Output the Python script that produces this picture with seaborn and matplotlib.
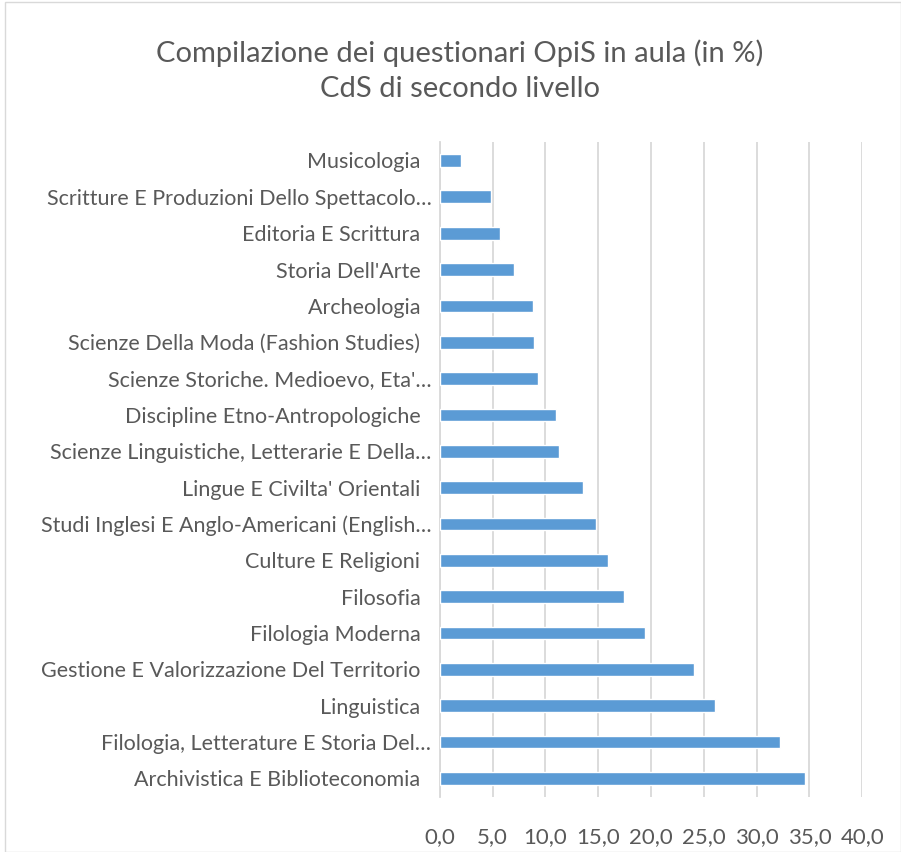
import seaborn as sns
import matplotlib.pyplot as plt
import matplotlib.ticker as mticker
from matplotlib.patches import Rectangle

corsi = [
    "Musicologia  ",
    "Scritture E Produzioni Dello Spettacolo…",
    "Editoria E Scrittura  ",
    "Storia Dell'Arte  ",
    "Archeologia  ",
    "Scienze Della Moda (Fashion Studies)  ",
    "Scienze Storiche. Medioevo, Eta'…",
    "Discipline Etno-Antropologiche  ",
    "Scienze Linguistiche, Letterarie E Della…",
    "Lingue E Civilta' Orientali  ",
    "Studi Inglesi E Anglo-Americani (English…",
    "Culture E Religioni  ",
    "Filosofia  ",
    "Filologia Moderna  ",
    "Gestione E Valorizzazione Del Territorio  ",
    "Linguistica  ",
    "Filologia, Letterature E Storia Del…",
    "Archivistica E Biblioteconomia  ",
]
percentuali = [2.0, 4.9, 5.7, 7.0, 8.8, 8.9, 9.3, 11.0, 11.3, 13.6,
               14.8, 15.9, 17.4, 19.4, 24.1, 26.1, 32.2, 34.6]
x_ticks = [0, 5, 10, 15, 20, 25, 30, 35, 40]

grigio = "#595959"

sns.set_style("white")
plt.rcParams['font.family'] = ['Lato', 'DejaVu Sans']

fig = plt.figure(figsize=(9.01, 8.52), dpi=100)
ax = fig.add_axes([0.488, 0.065, 0.469, 0.768])

sns.barplot(x=percentuali, y=corsi, orient="h", color="#5b9bd5",
            width=0.35, saturation=1, ax=ax, zorder=3)

ax.set_xlim(0, 40)
ax.set_ylim(17.5, -0.5)
ax.set_xticks(x_ticks)
ax.xaxis.set_major_formatter(mticker.FuncFormatter(lambda v, p: f"{v:.1f}".replace(".", ",")))
ax.grid(axis="x", color="#d9d9d9", linewidth=1.3, zorder=0)
ax.tick_params(axis="x", length=0, pad=22, labelsize=16, labelcolor=grigio)
ax.tick_params(axis="y", length=0, pad=6, labelsize=15.5, labelcolor=grigio)
for s in ["top", "right", "bottom"]:
    ax.spines[s].set_visible(False)
ax.spines["left"].set_color("#d9d9d9")
ax.spines["left"].set_linewidth(1.3)
ax.set_xlabel("")
ax.set_ylabel("")

fig.text(0.51, 0.917, "Compilazione dei questionari OpiS in aula (in %)\nCdS di secondo livello",
         ha="center", va="center", fontsize=21, color=grigio, linespacing=1.45)

fig.patches.append(Rectangle((0.005, 0.0), 0.995, 0.998, transform=fig.transFigure,
                             fill=False, edgecolor="#d9d9d9", linewidth=1))

fig.savefig("out.png", dpi=100)
